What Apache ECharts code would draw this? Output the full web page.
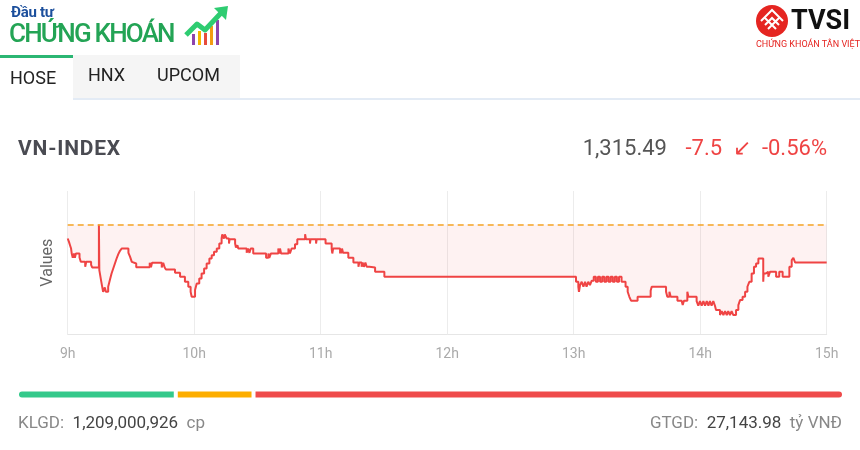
<!DOCTYPE html>
<html>
<head>
<meta charset="utf-8">
<script src="https://cdn.jsdelivr.net/npm/echarts@6/dist/echarts.min.js"></script>
<style>
html,body{margin:0;padding:0;background:#fff;width:860px;height:450px;overflow:hidden;font-family:Roboto,"Noto Sans",sans-serif;}
.abs{position:absolute;white-space:nowrap;}
#chart{position:absolute;left:0;top:0;width:860px;height:450px;}
</style>
</head>
<body>
<div id="chart"></div>

<!-- header logo -->
<div class="abs" style="left:11px;top:3px;font-size:15px;font-weight:bold;color:#1c4f9c;letter-spacing:-0.3px;">Đầu tư</div>
<div class="abs" style="left:9px;top:18px;font-size:26px;font-weight:500;color:#23a455;letter-spacing:-1.8px;">CHỨNG KHOÁN</div>
<svg class="abs" style="left:183px;top:4px" width="50" height="44" viewBox="0 0 50 44">
  <rect x="9" y="30" width="3" height="11" fill="#8e44ad"/>
  <rect x="15" y="27" width="3" height="14" fill="#f5b700"/>
  <rect x="21" y="29" width="3" height="12" fill="#e74c3c"/>
  <rect x="27" y="22" width="3" height="19" fill="#f39c12"/>
  <rect x="33" y="16" width="3" height="25" fill="#8e44ad"/>
  <polyline points="3,31 14,20 22,26 38,9" fill="none" stroke="#2ecc71" stroke-width="5" stroke-linejoin="round"/>
  <polygon points="31,4 45,2 43,16" fill="#2ecc71"/>
</svg>

<!-- TVSI logo -->
<svg class="abs" style="left:755px;top:4px" width="36" height="34" viewBox="0 0 36 34">
  <circle cx="17" cy="17" r="16" fill="#e52521"/>
  <path d="M6,17 L17,6 L28,17 M10,21 L17,14 L24,21 M13,25 L17,21 L21,25 M9,13 L17,21 L25,13" fill="none" stroke="#fff" stroke-width="2"/>
</svg>
<div class="abs" style="left:791px;top:4px;font-size:27px;font-weight:bold;color:#111;">TVSI</div>
<div class="abs" style="left:756px;top:39px;font-size:9px;color:#e52521;">CHỨNG KHOÁN TÂN VIỆT</div>

<!-- tabs -->
<div class="abs" style="left:0;top:55px;width:73px;height:3px;background:#2bb673;"></div>
<div class="abs" style="left:73px;top:55px;width:167px;height:43px;background:#f5f5f5;"></div>
<div class="abs" style="left:73px;top:98px;width:787px;height:2px;background:#e3ebf5;"></div>
<div class="abs" style="left:10px;top:67px;font-size:18px;color:#222;">HOSE</div>
<div class="abs" style="left:88px;top:64px;font-size:18px;color:#222;">HNX</div>
<div class="abs" style="left:157px;top:64px;font-size:18px;color:#222;">UPCOM</div>

<!-- index header -->
<div class="abs" style="left:18px;top:136px;font-size:21px;font-weight:bold;color:#4a4b52;letter-spacing:0.8px;">VN-INDEX</div>
<div class="abs" style="right:193px;top:135px;font-size:22px;color:#555;">1,315.49</div>
<div class="abs" style="right:33px;top:135px;font-size:22px;color:#ef4444;">-7.5&nbsp;&nbsp;↙&nbsp;&nbsp;-0.56%</div>

<!-- footer -->
<div class="abs" style="left:18px;top:412px;font-size:17px;color:#888;">KLGD:&nbsp; <span style="color:#444">1,209,000,926</span>&nbsp; cp</div>
<div class="abs" style="right:18px;top:412px;font-size:17px;color:#888;">GTGD:&nbsp; <span style="color:#444">27,143.98</span>&nbsp; tỷ VNĐ</div>

<script>
// minutes since 09:00
const times = [0.0,0.6,1.1,1.6,1.9,2.4,2.9,3.4,3.9,5.6,6.2,8.3,8.8,11.1,11.6,14.8,15.0,15.4,15.8,16.3,16.8,17.6,18.1,19.2,20.0,20.8,21.6,22.4,23.2,24.0,24.8,25.6,28.8,29.6,30.4,31.1,32.5,38.9,39.5,40.0,44.6,45.3,46.0,46.6,50.9,53.3,55.6,57.2,58.3,58.8,60.4,61.2,62.4,63.5,64.7,65.9,67.2,68.3,69.4,70.7,71.9,73.0,73.3,74.1,74.5,75.4,76.5,76.8,79.4,79.8,80.5,80.9,84.9,85.5,86.2,86.8,88.0,94.1,95.2,95.6,96.4,99.9,100.4,100.7,101.2,104.7,105.4,106.2,107.8,108.9,112.6,113.0,114.9,115.2,117.8,118.1,122.3,125.2,125.5,125.9,129.2,129.5,129.8,130.1,130.6,133.1,135.5,137.9,138.3,139.4,139.9,140.5,141.2,141.8,143.1,145.8,150.2,
241.1,242.2,242.5,243.0,243.8,244.6,245.4,246.1,246.9,247.7,248.5,249.5,250.5,251.5,252.5,253.5,254.5,255.5,256.5,257.5,258.5,259.5,260.5,261.5,262.7,264.6,265.6,266.4,267.2,270.3,276.5,277.0,283.8,284.4,285.4,286.0,289.2,291.2,291.7,292.3,293.9,294.4,298.3,299.1,299.9,300.7,301.5,302.3,303.1,303.9,304.6,305.4,306.2,307.0,307.5,309.4,310.2,311.0,311.8,312.6,313.3,314.1,314.9,315.7,317.0,318.1,318.9,320.1,321.3,322.4,323.3,324.4,325.5,326.5,327.6,329.9,330.1,331.2,332.3,333.1,336.0,337.5,339.1,342.3,343.4,344.2,345.0,360.0];
const values = [1320.22,1319.56,1318.90,1318.24,1317.26,1316.40,1317.26,1316.40,1317.26,1316.47,1315.61,1314.63,1315.61,1315.02,1314.50,1322.98,1313.97,1312.99,1312.00,1310.82,1309.70,1310.56,1309.70,1310.68,1312.00,1313.31,1314.30,1315.29,1316.27,1317.13,1317.79,1318.24,1317.39,1316.60,1315.61,1315.29,1314.56,1315.42,1314.56,1315.42,1314.50,1315.42,1314.50,1314.10,1313.45,1312.66,1311.67,1310.68,1309.70,1308.71,1310.03,1311.34,1312.33,1313.31,1314.30,1315.29,1316.27,1316.93,1317.59,1318.24,1319.23,1320.22,1321.01,1320.22,1321.01,1320.22,1319.23,1320.09,1319.23,1318.44,1318.90,1318.24,1317.39,1318.24,1317.39,1318.24,1317.26,1316.40,1317.26,1316.40,1317.26,1318.24,1317.26,1318.24,1317.26,1318.24,1317.26,1318.24,1319.10,1320.09,1321.07,1320.09,1319.23,1320.09,1319.23,1320.09,1319.23,1318.24,1317.26,1318.24,1317.26,1318.24,1317.26,1318.24,1317.39,1316.40,1315.48,1314.63,1315.48,1314.63,1315.48,1314.63,1315.48,1314.63,1314.50,1313.64,1312.66,
1311.67,1310.69,1309.70,1311.02,1311.67,1310.69,1311.67,1310.69,1311.67,1311.02,1311.87,1312.66,1311.67,1312.66,1311.67,1312.66,1311.67,1312.66,1311.67,1312.66,1311.67,1312.66,1311.67,1312.66,1311.67,1310.69,1309.70,1308.71,1307.93,1308.71,1309.90,1310.69,1309.70,1308.71,1309.70,1308.71,1307.93,1307.73,1307.07,1307.93,1309.70,1308.71,1307.86,1306.94,1307.86,1306.94,1307.86,1306.94,1307.86,1306.94,1307.86,1306.94,1307.86,1306.94,1306.09,1305.10,1305.89,1305.10,1305.89,1305.10,1305.89,1305.10,1305.89,1305.10,1306.09,1307.07,1308.06,1308.71,1309.70,1310.69,1311.67,1313.32,1314.63,1315.29,1316.27,1311.67,1313.32,1313.64,1312.66,1313.64,1312.66,1313.64,1312.66,1314.63,1315.94,1316.40,1315.48,1315.49];
const referenceValue = 1322.99;
const yMin = 1301.3, yMax = 1329.6;
const hourTicks = ['9h','10h','11h','12h','13h','14h','15h'];
// advancing / unchanged / declining
const breadthLabels = ['Tăng','Đứng giá','Giảm'];
const breadthValues = [96, 47, 357];
const breadthColors = ['#34c98b','#fdae00','#ef4b4b'];

const lineData = times.map((t,i)=>[t, values[i]]);
const total = breadthValues.reduce((a,b)=>a+b,0);

const chart = echarts.init(document.getElementById('chart'), null, {renderer:'canvas'});
chart.setOption({
  animation:false,
  grid:[
    {left:67.7, right:33.3, top:191, bottom:115.7},
    {left:17, right:16, top:389, height:11}
  ],
  xAxis:[
    {type:'value', gridIndex:0, min:0, max:360, interval:60,
     axisLine:{show:true,lineStyle:{color:'#e6e6e6',width:1}},
     axisTick:{show:false},
     splitLine:{show:true,lineStyle:{color:'#ececec',width:1}},
     axisLabel:{color:'#aaa',fontSize:14,margin:13,fontFamily:'Roboto',
       formatter:(v)=>hourTicks[Math.round(v/60)]}},
    {type:'value', gridIndex:1, min:0, max:total, show:false}
  ],
  yAxis:[
    {type:'value', gridIndex:0, min:yMin, max:yMax,
     name:'Values', nameLocation:'middle', nameGap:12,
     nameTextStyle:{color:'#666',fontSize:16,fontFamily:'Roboto'},
     axisLine:{show:false}, axisTick:{show:false}, axisLabel:{show:false}, splitLine:{show:false}},
    {type:'category', gridIndex:1, data:['b'], show:false}
  ],
  series:[
    {type:'line', xAxisIndex:0, yAxisIndex:0, data:lineData, step:'end',
     showSymbol:false, symbol:'none',
     lineStyle:{color:'#ef4444',width:2},
     areaStyle:{color:'rgba(239,68,68,0.1)', origin:referenceValue},
     markLine:{silent:true, symbol:'none', label:{show:false},
       lineStyle:{color:'#f5a524',type:[6,4],width:1.5},
       data:[{yAxis:referenceValue}]}
    },
    ...breadthValues.map((v,i)=>({
      type:'bar', name:breadthLabels[i], xAxisIndex:1, yAxisIndex:1, stack:'b',
      data:[v], barWidth:10,
      itemStyle:{color:breadthColors[i], borderColor:'#fff', borderWidth:2,
        borderRadius: i===0?[5,0,0,5]:(i===breadthValues.length-1?[0,5,5,0]:0)}
    }))
  ]
});
</script>
</body>
</html>
